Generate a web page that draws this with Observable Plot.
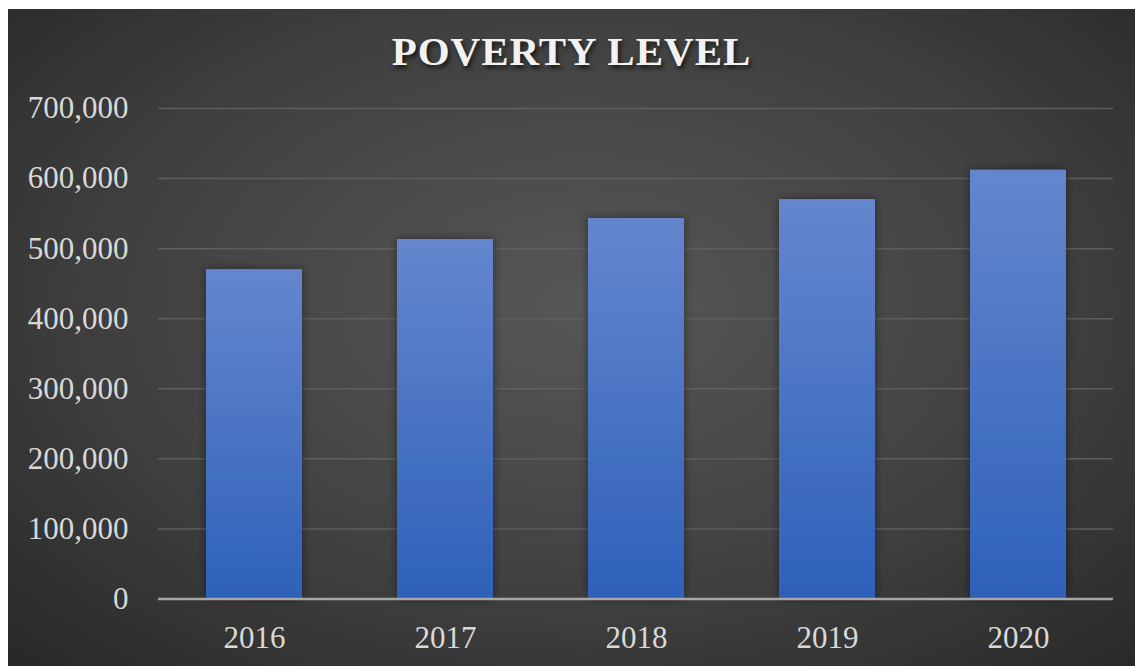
<!DOCTYPE html>
<html>
<head>
<meta charset="utf-8">
<script src="https://cdn.jsdelivr.net/npm/d3@7"></script>
<script src="https://cdn.jsdelivr.net/npm/@observablehq/plot@0.6"></script>
<style>
  html, body { margin: 0; padding: 0; background: #ffffff; }
  body { width: 1135px; height: 666px; position: relative; overflow: hidden; }
  #panel {
    position: absolute; left: 8px; top: 9px; width: 1127px; height: 657px;
    background: radial-gradient(ellipse 75% 80% at 51% 45%, #575757 0%, #404040 55%, #262626 100%);
    overflow: hidden;
  }
  #title {
    position: absolute; left: 0; width: 1127px; top: 22px; text-align: center;
    font-family: "Liberation Serif", "Times New Roman", serif; font-weight: bold;
    font-size: 41px; line-height: 41px; letter-spacing: 1px; color: #f2f2f2;
    text-shadow: 2px 3px 4px rgba(0,0,0,0.7);
  }
  #chart { position: absolute; left: 0; top: 0; }
</style>
</head>
<body>
<div id="panel">
  <div id="title">POVERTY LEVEL</div>
  <div id="chart"></div>
</div>
<script>
const years = ["2016", "2017", "2018", "2019", "2020"];
const values = [470000, 513000, 543000, 570000, 612000];
const yTicks = [0, 100000, 200000, 300000, 400000, 500000, 600000, 700000];

const data = years.map((y, i) => ({year: y, value: values[i]}));

const plot = Plot.plot({
  width: 1127,
  height: 657,
  marginTop: 99,
  marginBottom: 67.5,
  marginLeft: 150,
  marginRight: 22,
  style: {background: "transparent", fontFamily: "'Liberation Serif', 'Times New Roman', serif", fontSize: "31px", color: "#d9d9d9", overflow: "visible"},
  x: {domain: years, paddingInner: 0.5, paddingOuter: 0.25},
  y: {domain: [0, 700000]},
  marks: [
    Plot.ruleY(yTicks.filter(d => d > 0), {stroke: "#5e5e5e", strokeWidth: 1.5}),
    Plot.barY(data, {x: "year", y: "value", fill: "url(#barGrad)", className: "bars"}),
    Plot.ruleY([0], {stroke: "#a6a6a6", strokeWidth: 2.5}),
    Plot.axisY({ticks: yTicks, tickFormat: d3.format(","), tickSize: 0, tickPadding: 30, label: null, fill: "#d9d9d9"}),
    Plot.axisX({tickSize: 0, tickPadding: 27, label: null, fill: "#d9d9d9"})
  ]
});

const svg = d3.select(plot);
const defs = svg.insert("defs", ":first-child");
const grad = defs.append("linearGradient").attr("id", "barGrad").attr("x1", 0).attr("y1", 0).attr("x2", 0).attr("y2", 1);
grad.append("stop").attr("offset", "0%").attr("stop-color", "#6586cd");
grad.append("stop").attr("offset", "100%").attr("stop-color", "#2e61ba");
const f = defs.append("filter").attr("id", "shadow").attr("x", "-20%").attr("y", "-20%").attr("width", "140%").attr("height", "140%");
f.append("feDropShadow").attr("dx", 0).attr("dy", 0).attr("stdDeviation", 5).attr("flood-color", "#000").attr("flood-opacity", 0.45);
svg.selectAll("g.bars").attr("filter", "url(#shadow)");

document.getElementById("chart").appendChild(plot);
</script>
</body>
</html>
